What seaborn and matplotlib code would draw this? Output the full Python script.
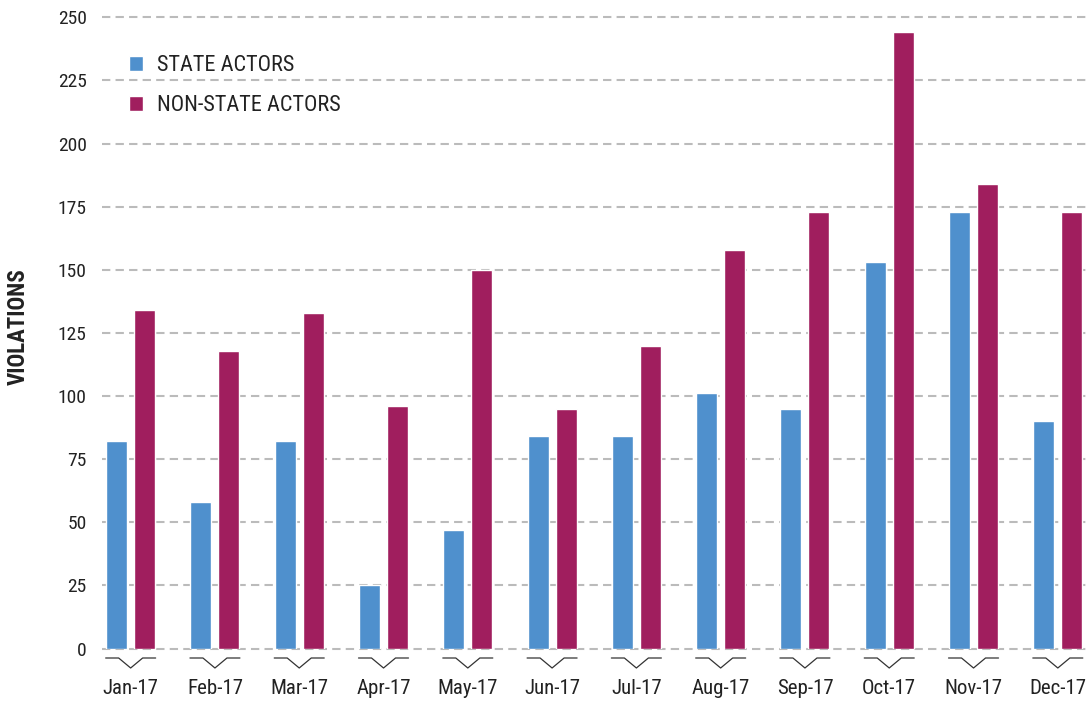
import matplotlib
matplotlib.use("Agg")
import matplotlib.pyplot as plt
import matplotlib.transforms as mtransforms
import seaborn as sns
import pandas as pd
import numpy as np

months = ["Jan-17", "Feb-17", "Mar-17", "Apr-17", "May-17", "Jun-17",
          "Jul-17", "Aug-17", "Sep-17", "Oct-17", "Nov-17", "Dec-17"]
state_actors = [82, 58, 82, 25, 47, 84, 84, 101, 95, 153, 173, 90]
non_state_actors = [134, 118, 133, 96, 150, 95, 120, 158, 173, 244, 184, 173]
series_names = ["STATE ACTORS", "NON-STATE ACTORS"]
colors = ["#4F90CD", "#A01E5E"]
y_ticks = [0, 25, 50, 75, 100, 125, 150, 175, 200, 225, 250]

df = pd.DataFrame({
    "month": months * 2,
    "violations": state_actors + non_state_actors,
    "series": [series_names[0]] * len(months) + [series_names[1]] * len(months),
})

sns.set_theme(style="white")
fonts = ["Roboto Condensed", "Liberation Sans Narrow", "Liberation Sans", "DejaVu Sans"]
plt.rcParams["font.family"] = fonts

W, H = 1089, 702
fig = plt.figure(figsize=(W / 100, H / 100), dpi=100)
ax_left, ax_right = 102 / W, 1.0
ax_bottom, ax_top = (H - 648.5) / H, (H - 17.3) / H
ax = fig.add_axes([ax_left, ax_bottom, ax_right - ax_left, ax_top - ax_bottom])

sns.barplot(data=df, x="month", y="violations", hue="series", order=months,
            hue_order=series_names, palette=colors, width=0.664, gap=0.25,
            saturation=1, ax=ax, legend=True, zorder=3)

ax.set_xlim(-0.34, 11.37)
ax.set_ylim(0, 250)
ax.set_yticks(y_ticks)
ax.set_yticklabels([str(v) for v in y_ticks])
for v in y_ticks:
    ax.axhline(v, color="#BBBBBB", lw=1.5, dashes=(4, 2.5), zorder=1, clip_on=False)
for s in ax.spines.values():
    s.set_visible(False)
ax.grid(False)
ax.tick_params(axis="both", length=0, labelcolor="#222222")
ax.tick_params(axis="y", pad=11, labelsize=14)
ax.tick_params(axis="x", pad=22, labelsize=15)
ax.set_xlabel("")
ax.set_ylabel("")

# chevron decorations under each category
trans = mtransforms.blended_transform_factory(ax.transData, ax.transAxes)
ax_h_px = (ax_top - ax_bottom) * H
px = 1 / 84.27
y_line = -9.5 / ax_h_px
y_tip = -19.5 / ax_h_px
for i, _ in enumerate(months):
    xs = [i - 25 * px, i - 12 * px, i, i + 12 * px, i + 25 * px]
    ys = [y_line, y_line, y_tip, y_line, y_line]
    ax.plot(xs, ys, color="#333333", lw=0.9, transform=trans, clip_on=False)

fig.text(18 / W, 1 - 327 / H, "VIOLATIONS", rotation=90, ha="center", va="center",
         fontsize=16.5, fontweight="bold", color="#222222")

handles, labels = ax.get_legend_handles_labels()
ax.legend(handles, labels, loc="upper left", bbox_to_anchor=(109 / W, 1 - 35 / H),
          bbox_transform=fig.transFigure, frameon=False, fontsize=16,
          handlelength=0.65, handleheight=0.65, handletextpad=0.6, labelspacing=0.85,
          labelcolor="#222222")

fig.savefig("out.png", dpi=100)
